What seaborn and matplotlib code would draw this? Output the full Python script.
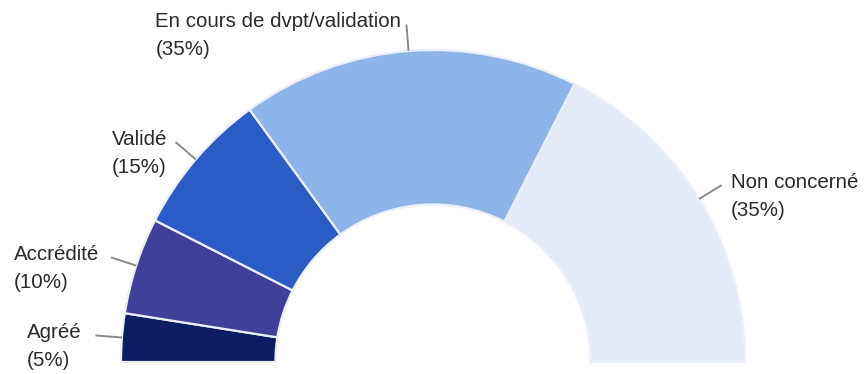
import numpy as np
import matplotlib.pyplot as plt
import seaborn as sns

# statut des démarches
categories = ["Agréé", "Accrédité", "Validé", "En cours de dvpt/validation", "Non concerné"]
shares = [5, 10, 15, 35, 35]
colors = ["#0c1d63", "#40409a", "#2b5cc6", "#8cb4e8", "#e3ebf8"]

sns.set_theme(style="white")
plt.rcParams['font.family'] = ['Liberation Sans', 'DejaVu Sans']

fig = plt.figure(figsize=(8.64, 3.74), dpi=100)
ax = fig.add_axes([0, 0, 1, 1])

# demi-donut : on ajoute une part cachée égale au total
wedges, _ = ax.pie(shares + [sum(shares)], colors=colors + ['none'],
                   startangle=180, counterclock=False, radius=1.0,
                   wedgeprops=dict(width=0.495, edgecolor='#eceffa', linewidth=1.6))
wedges[-1].set_visible(False)

px = 1 / 312  # taille d'un pixel en unités du rayon
cx, cy = 433, 362
ax.set_xlim(-cx * px, (864 - cx) * px)
ax.set_ylim(-(374 - cy) * px, cy * px)
ax.set_aspect('auto')
ax.axis('off')

# étiquettes avec traits de rappel
offsets = [(-14, 'right'), (-12, 'right'), (-8, 'right'), (-5, 'right'), (9, 'left')]
for w, name, val, (dx, ha) in zip(wedges, categories, shares, offsets):
    ang = np.deg2rad((w.theta1 + w.theta2) / 2)
    x0, y0 = np.cos(ang), np.sin(ang)
    x1, y1 = 1.085 * x0, 1.085 * y0
    ax.plot([x0, x1], [y0, y1], color='#8a8a8a', lw=1.4, solid_capstyle='butt')
    ax.text(x1 + dx * px, y1 - 11 * px, f"{name}\n({val}%)", ha=ha, va='center',
            multialignment='left', fontsize=14.8, color='#2a2a2a', linespacing=1.6)

fig.savefig("out.png", dpi=100)
